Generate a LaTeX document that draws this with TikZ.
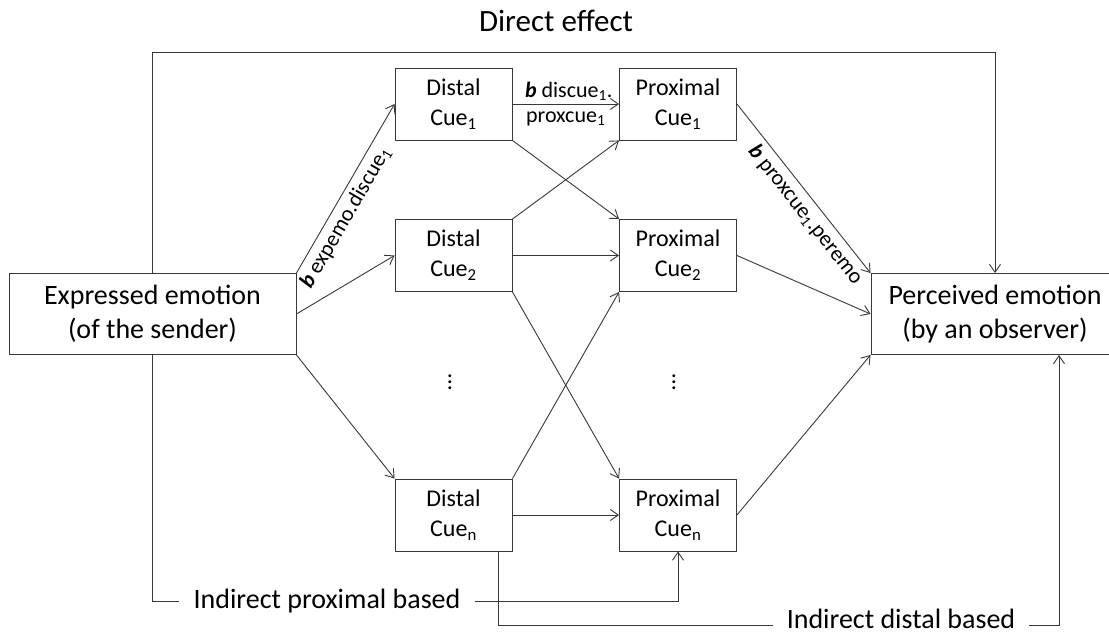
\documentclass[tikz,border=0pt]{standalone}
\usepackage{fontspec}
\setmainfont{Carlito}
\usetikzlibrary{arrows.meta,calc}
\newcommand{\cuedots}{\vbox{\baselineskip=6pt\lineskiplimit=-20pt\hbox{.}\hbox{.}\hbox{.}}}
\tikzstyle{boxed} = [draw=black!78, line width=0.9pt, align=center, inner sep=0pt]
\tikzstyle{wire} = [draw=black!78, line width=0.9pt]
\tikzset{
  % edge styles
  >={Straight Barb[length=8pt,width=11pt]},
  link/.style={wire,->},
  % node styles
  cue/.style={boxed,minimum width=117pt,minimum height=72pt,font=\fontsize{24}{30}\selectfont},
  emo/.style={boxed,minimum height=81pt,font=\fontsize{28}{34}\selectfont},
  coef/.style={font=\fontsize{22}{26}\selectfont},
  route/.style={font=\fontsize{28}{34}\selectfont,inner xsep=14pt,inner ysep=0pt},
  gap/.style={font=\fontsize{24}{30}\selectfont,inner sep=0pt},
}

\begin{document}
\begin{tikzpicture}[x=1pt,y=-1pt]
        \useasboundingbox (0,0) rectangle (1109,636);
        \clip (0,0) rectangle (1109,636);
        % sender and observer
        \node(EXP)[emo,minimum width=287pt] at (152.5,314) {Expressed emotion\\(of the sender)};
        \node(PER)[emo,minimum width=248pt] at (995,314) {Perceived emotion\\(by an observer)};
        % distal cues
        \node(D1)[cue] at (453.5,104) {Distal\\Cue\textsubscript{1}};
        \node(D2)[cue] at (453.5,255.5) {Distal\\Cue\textsubscript{2}};
        \node(DD)[gap] at (450,382) {\cuedots};
        \node(DN)[cue] at (453.5,515) {Distal\\Cue\textsubscript{n}};
        % proximal cues
        \node(P1)[cue] at (678,104) {Proximal\\Cue\textsubscript{1}};
        \node(P2)[cue] at (678,255.5) {Proximal\\Cue\textsubscript{2}};
        \node(PD)[gap] at (674,382) {\cuedots};
        \node(PN)[cue] at (678,515) {Proximal\\Cue\textsubscript{n}};
        % sender to distal cues
        \draw[link] (EXP.north east) -- node[sloped,below,coef,pos=0.37,inner sep=5pt]{\textbf{\textit{b}} expemo.discue\textsubscript{1}} (D1.west);
        \draw[link] (EXP.east) -- (D2.west);
        \draw[link] (EXP.south east) -- (DN.north west);
        % distal to proximal cues
        \draw[link] (D1) -- node[above,coef,xshift=3pt]{\textbf{\textit{b}} discue\textsubscript{1}.} node[below,coef,inner sep=7pt]{proxcue\textsubscript{1}} (P1);
        \draw[link] (D1.south east) -- (P2.north west);
        \draw[link] (D2.north east) -- (P1.south west);
        \draw[link] (D2) -- (P2);
        \draw[link] (D2.south east) -- (PN.north west);
        \draw[link] (DN.north east) -- (P2.south west);
        \draw[link] (DN) -- (PN);
        % proximal cues to observer
        \draw[link] (P1.east) -- node[sloped,below,coef,pos=0.6,inner sep=5pt]{\textbf{\textit{b}} proxcue\textsubscript{1}.peremo} (PER.north west);
        \draw[link] (P2.east) -- (PER.west);
        \draw[link] (PN.east) -- (PER.south west);
        % direct effect
        \coordinate(TOP) at (0,52);
        \node(DIR)[route,font=\fontsize{31}{36}\selectfont,anchor=base,inner sep=0pt] at (556,32) {Direct effect};
        \draw[link] (EXP.north) -- (EXP.north |- TOP) -- (PER.north |- TOP) -- (PER.north);
        % indirect effects
        \node(IPB)[route] at (327,601) {Indirect proximal based};
        \draw[wire] (EXP.south) |- (IPB.west);
        \draw[link] (IPB.east) -| (PN.south);
        \coordinate(DNX) at ($(DN.south east)+(-14,0)$);
        \coordinate(PERX) at ($(PER.south)+(64,0)$);
        \node(IDB)[route] at (901,619) {Indirect distal based};
        \draw[wire] (DNX) |- ($(IDB.west)+(0,6)$);
        \draw[link] ($(IDB.east)+(0,6)$) -| (PERX);
\end{tikzpicture}
\end{document}
